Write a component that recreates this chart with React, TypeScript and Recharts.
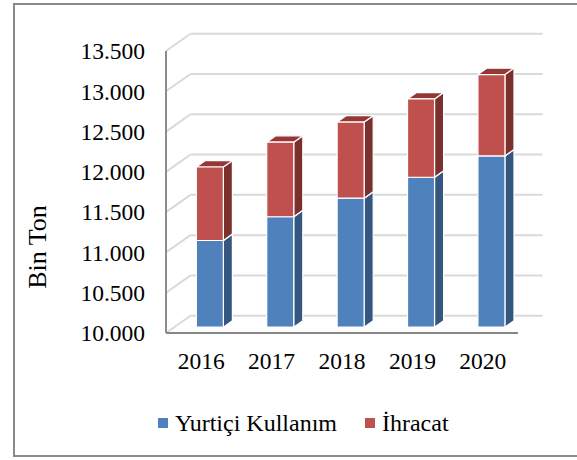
import React from 'react';
import { BarChart, Bar, XAxis, YAxis, CartesianGrid, Legend } from 'recharts';

const YEARS = ['2016', '2017', '2018', '2019', '2020'];
const YURTICI = [11075, 11370, 11600, 11860, 12125];
const IHRACAT = [912, 925, 945, 972, 1010];
const TICKS = [10000, 10500, 11000, 11500, 12000, 12500, 13000, 13500];

const data = YEARS.map((year, i) => ({ year, yurtici: YURTICI[i], ihracat: IHRACAT[i] }));

const FONT = '"Liberation Serif", "Times New Roman", serif';
const DEPTH_X = 24.5;
const DEPTH_Y = -17.3;
const BAR_START = 0.34;
const BAR_DEPTH = 0.37;

const BLUE = { face: '#4F81BD', side: '#34567F', top: '#3E6595' };
const RED = { face: '#C0504D', side: '#7B302E', top: '#943735' };

const fmt = (v: number) => String(v).replace(/\B(?=(\d{3})+(?!\d))/g, '.');

function Box(props: any) {
  const { x, y, width, height, background, colors } = props;
  const plotBottom = background ? background.y + background.height : y + height;
  const bottom = Math.min(y + height, plotBottom);
  const ox = DEPTH_X * BAR_START;
  const oy = DEPTH_Y * BAR_START;
  const dx = DEPTH_X * BAR_DEPTH;
  const dy = DEPTH_Y * BAR_DEPTH;
  const l = x + ox;
  const r = x + width + ox;
  const t = y + oy;
  const b = bottom + oy;
  return (
    <g stroke="#fff" strokeWidth={1.2} strokeLinejoin="round">
      <polygon points={`${r},${t} ${r + dx},${t + dy} ${r + dx},${b + dy} ${r},${b}`} fill={colors.side} />
      <polygon points={`${l},${t} ${l + dx},${t + dy} ${r + dx},${t + dy} ${r},${t}`} fill={colors.top} />
      <rect x={l} y={t} width={r - l} height={b - t} fill={colors.face} />
    </g>
  );
}

function GridLine(props: any) {
  const { x1, y1, x2 } = props;
  return (
    <g key={props.key} stroke="#D9D9D9" strokeWidth={2} fill="none">
      <line x1={x1} y1={y1} x2={x1 + DEPTH_X} y2={y1 + DEPTH_Y} />
      <line x1={x1 + DEPTH_X} y1={y1 + DEPTH_Y} x2={x2 + DEPTH_X} y2={y1 + DEPTH_Y} />
    </g>
  );
}

function LegendContent(props: any) {
  const { payload } = props;
  return (
    <div style={{ display: 'flex', alignItems: 'center', height: 26, fontFamily: FONT, fontSize: 24, color: '#000' }}>
      {(payload || []).map((p: any, i: number) => (
        <div key={i} style={{ display: 'flex', alignItems: 'center', marginRight: 28 }}>
          <span style={{ width: 10, height: 10, background: p.color, marginRight: 7, display: 'inline-block' }} />
          <span>{p.value}</span>
        </div>
      ))}
    </div>
  );
}

export default function App() {
  return (
    <div style={{ position: 'absolute', left: 0, top: 0, width: 577, height: 460, background: '#fff', overflow: 'hidden' }}>
      <div
        style={{
          position: 'absolute',
          left: 13,
          top: 3,
          width: 620,
          height: 454,
          border: '2px solid #8A8A8A',
          boxSizing: 'border-box',
        }}
      />
      <div style={{ position: 'absolute', left: 0, top: 0 }}>
        <BarChart
          width={577}
          height={460}
          data={data}
          margin={{ top: 51, right: 59, left: 66, bottom: 61 }}
          barSize={27}
        >
          <CartesianGrid vertical={false} horizontal={(p: any) => <GridLine {...p} />} />
          <XAxis
            dataKey="year"
            height={40}
            tickSize={0}
            tickMargin={19}
            axisLine={{ stroke: '#868686', strokeWidth: 2 }}
            tick={{ fill: '#000', fontSize: 23.5, fontFamily: FONT }}
          />
          <YAxis
            width={100}
            domain={[10000, 13500]}
            ticks={TICKS}
            allowDataOverflow
            tickSize={0}
            tickMargin={21}
            tickFormatter={fmt}
            axisLine={{ stroke: '#8C8C8C', strokeWidth: 2 }}
            tick={{ fill: '#000', fontSize: 23.5, fontFamily: FONT }}
            label={{
              content: (lp: any) => {
                const vb = lp.viewBox || { x: 66, y: 51, width: 100, height: 282 };
                const cx = vb.x - 29;
                const cy = vb.y + vb.height / 2 + 55;
                return (
                  <text
                    x={cx}
                    y={cy}
                    transform={`rotate(-90, ${cx}, ${cy})`}
                    textAnchor="middle"
                    dominantBaseline="central"
                    style={{ fontFamily: FONT, fontSize: 26, fill: '#000' }}
                  >
                    Bin Ton
                  </text>
                );
              },
            }}
          />
          <Legend
            verticalAlign="bottom"
            content={<LegendContent />}
            wrapperStyle={{ top: 410, bottom: 'auto', left: 158, width: 420, height: 26 }}
          />
          <Bar
            dataKey="yurtici"
            name="Yurtiçi Kullanım"
            stackId="a"
            fill={BLUE.face}
            isAnimationActive={false}
            shape={(p: any) => <Box {...p} colors={BLUE} />}
          />
          <Bar
            dataKey="ihracat"
            name="İhracat"
            stackId="a"
            fill={RED.face}
            isAnimationActive={false}
            shape={(p: any) => <Box {...p} colors={RED} />}
          />
        </BarChart>
      </div>
    </div>
  );
}
